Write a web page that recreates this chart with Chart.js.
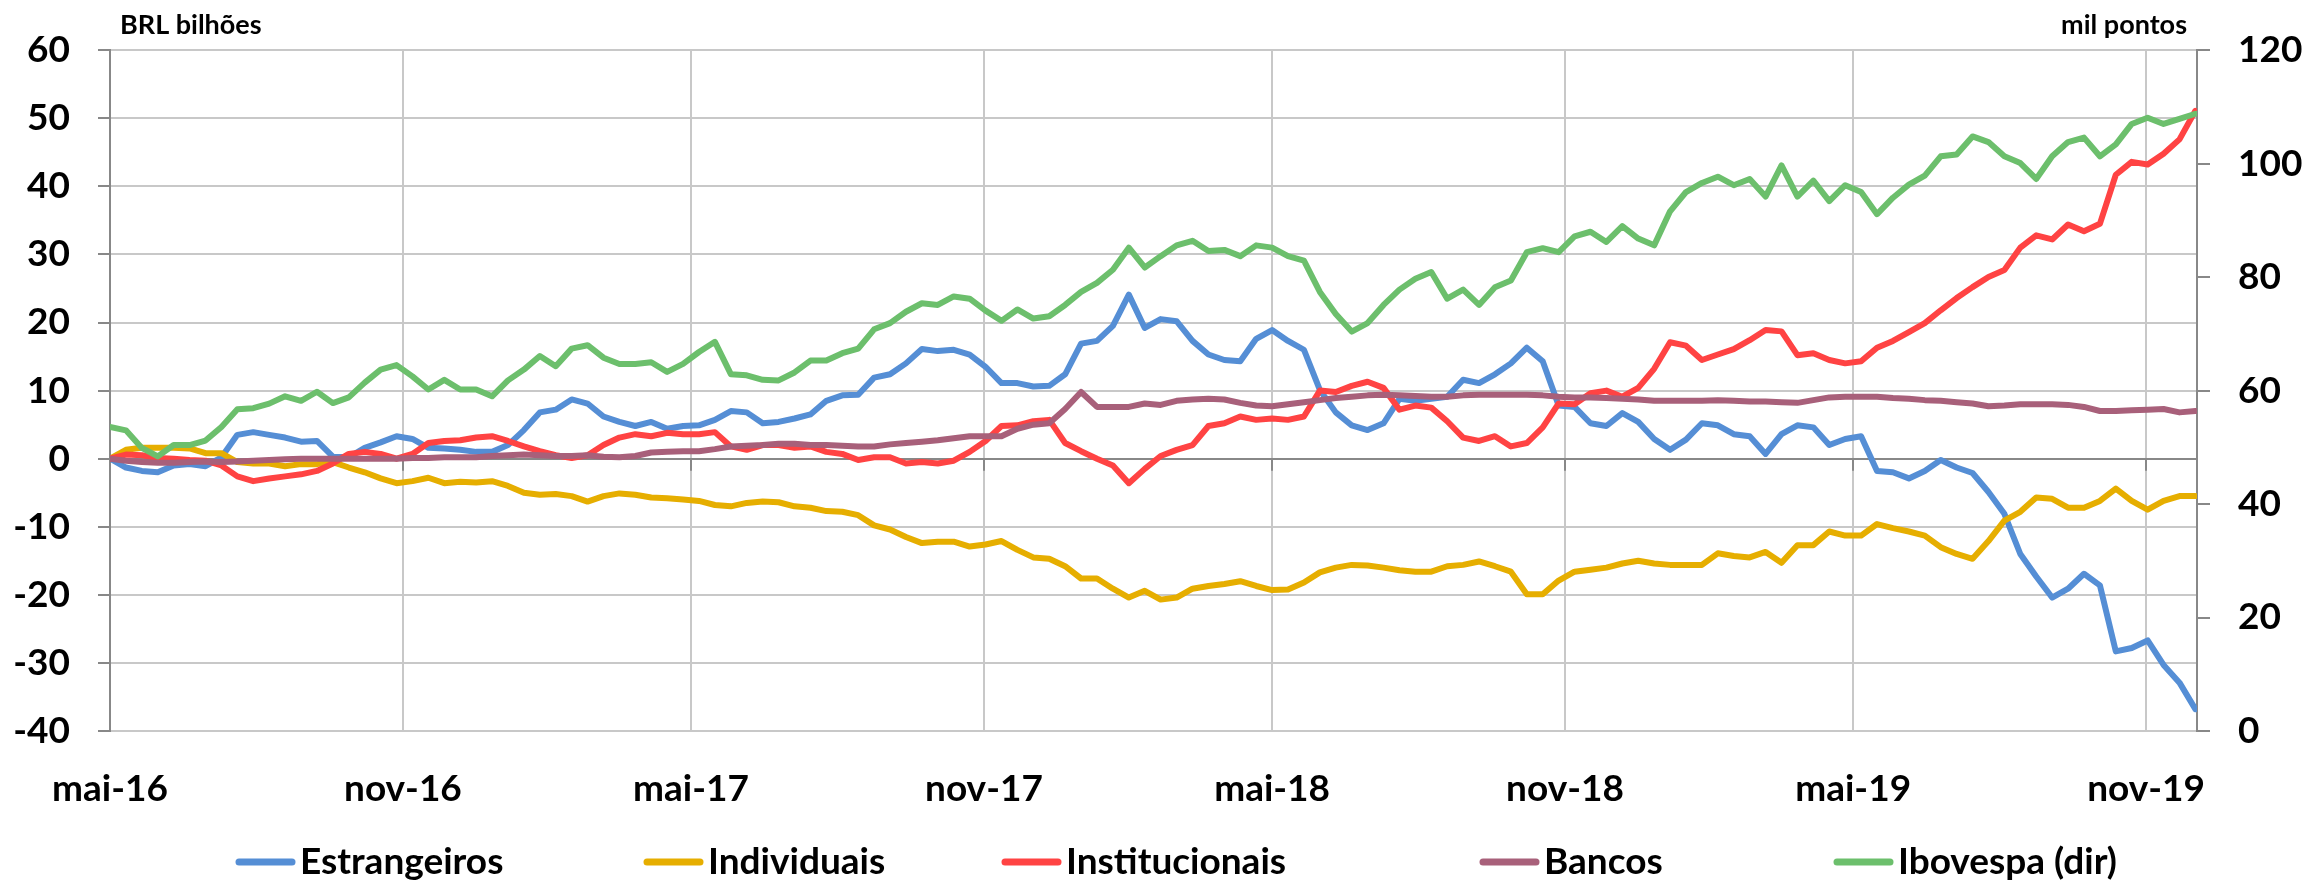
<!DOCTYPE html>
<html lang="pt-BR">
<head>
<meta charset="utf-8">
<title>Fluxo de investidores na B3</title>
<script src="https://cdn.jsdelivr.net/npm/chart.js@4.4.1/dist/chart.umd.min.js"></script>
<style>
  html, body { margin: 0; padding: 0; background: #ffffff; }
  #wrap { width: 2310px; height: 886px; }
</style>
</head>
<body>
<div id="wrap"><canvas id="fluxo" width="2310" height="886"></canvas></div>
<script>
// dias desde 01/05/2016 (um ponto a cada 10 dias)
const dias = [
  0, 10, 20, 30, 40, 50, 60, 70, 80, 90, 100, 110, 120, 130, 140, 150, 160, 170, 180, 190, 200, 210,
  220, 230, 240, 250, 260, 270, 280, 290, 300, 310, 320, 330, 340, 350, 360, 370, 380, 390, 400, 410, 420, 430,
  440, 450, 460, 470, 480, 490, 500, 510, 520, 530, 540, 550, 560, 570, 580, 590, 600, 610, 620, 630, 640, 650,
  660, 670, 680, 690, 700, 710, 720, 730, 740, 750, 760, 770, 780, 790, 800, 810, 820, 830, 840, 850, 860, 870,
  880, 890, 900, 910, 920, 930, 940, 950, 960, 970, 980, 990, 1000, 1010, 1020, 1030, 1040, 1050, 1060, 1070, 1080,
  1090, 1100, 1110, 1120, 1130, 1140, 1150, 1160, 1170, 1180, 1190, 1200, 1210, 1220, 1230, 1240, 1250, 1260, 1270, 1280, 1290, 1300, 1310
];

// BRL bilhões (eixo esquerdo)
const estrangeiros = [
  0, -1.3, -1.8, -2.0, -1.0, -0.8, -1.1, 0.2, 3.5, 3.9, 3.5, 3.1, 2.5, 2.6, 0.3, 0.2, 1.6, 2.4, 3.3, 2.9, 1.6, 1.5,
  1.3, 1.0, 1.0, 2.0, 4.2, 6.8, 7.2, 8.7, 8.1, 6.2, 5.4, 4.8, 5.4, 4.4, 4.8, 4.9, 5.7, 7.0, 6.8, 5.2, 5.4, 5.9,
  6.5, 8.5, 9.3, 9.4, 11.9, 12.4, 14.0, 16.1, 15.8, 16.0, 15.3, 13.5, 11.1, 11.1, 10.6, 10.7, 12.4, 16.9, 17.3, 19.5, 24.1, 19.2,
  20.5, 20.2, 17.3, 15.3, 14.5, 14.3, 17.6, 18.9, 17.3, 16.0, 10.1, 6.8, 4.9, 4.2, 5.2, 8.8, 8.5, 8.8, 9.1, 11.6, 11.1, 12.4,
  14.0, 16.3, 14.3, 7.8, 7.6, 5.2, 4.8, 6.7, 5.4, 2.9, 1.3, 2.8, 5.2, 4.9, 3.6, 3.3, 0.7, 3.6, 4.9, 4.6, 2.0,
  2.9, 3.3, -1.8, -2.0, -2.9, -1.8, -0.2, -1.3, -2.1, -4.9, -8.1, -14.0, -17.3, -20.4, -19.1, -16.9, -18.6, -28.3, -27.8, -26.7, -30.3, -32.9, -36.8
];
const individuais = [
  0, 1.3, 1.6, 1.6, 1.6, 1.5, 0.8, 0.8, -0.5, -0.7, -0.7, -1.1, -0.8, -0.8, -0.5, -1.3, -2.0, -2.9, -3.6, -3.3, -2.8, -3.6,
  -3.4, -3.5, -3.3, -4.0, -5.0, -5.3, -5.2, -5.5, -6.3, -5.5, -5.1, -5.3, -5.7, -5.8, -6.0, -6.2, -6.8, -7.0, -6.5, -6.3, -6.4, -7.0,
  -7.2, -7.7, -7.8, -8.3, -9.8, -10.4, -11.5, -12.4, -12.2, -12.2, -12.9, -12.6, -12.1, -13.4, -14.5, -14.7, -15.8, -17.6, -17.6, -19.1, -20.4, -19.4,
  -20.7, -20.4, -19.1, -18.7, -18.4, -18.0, -18.7, -19.3, -19.2, -18.2, -16.7, -16.0, -15.6, -15.7, -16.0, -16.4, -16.6, -16.6, -15.8, -15.6, -15.1, -15.8,
  -16.6, -19.9, -19.9, -17.9, -16.6, -16.3, -16.0, -15.4, -15.0, -15.4, -15.6, -15.6, -15.6, -13.9, -14.3, -14.5, -13.7, -15.3, -12.7, -12.7, -10.7,
  -11.3, -11.3, -9.6, -10.2, -10.7, -11.3, -13.0, -14.0, -14.7, -12.1, -9.1, -7.8, -5.7, -5.9, -7.2, -7.2, -6.2, -4.4, -6.2, -7.5, -6.2, -5.5, -5.5
];
const institucionais = [
  0, 0.6, 0.5, 0.1, 0, -0.2, -0.3, -1.0, -2.6, -3.3, -2.9, -2.6, -2.3, -1.8, -0.7, 0.7, 1.0, 0.7, 0, 0.7, 2.3, 2.6,
  2.7, 3.1, 3.3, 2.6, 1.8, 1.1, 0.5, 0.1, 0.5, 2.0, 3.1, 3.6, 3.3, 3.8, 3.6, 3.6, 3.9, 1.8, 1.3, 2.0, 2.0, 1.6,
  1.8, 1.0, 0.7, -0.2, 0.2, 0.2, -0.7, -0.5, -0.7, -0.3, 1.0, 2.6, 4.8, 4.9, 5.5, 5.7, 2.3, 1.1, 0, -1.0, -3.6, -1.5,
  0.4, 1.3, 2.0, 4.8, 5.2, 6.2, 5.7, 5.9, 5.7, 6.2, 10.0, 9.8, 10.7, 11.3, 10.4, 7.2, 7.8, 7.5, 5.5, 3.1, 2.6, 3.3,
  1.8, 2.3, 4.6, 8.1, 8.0, 9.6, 10.0, 9.1, 10.4, 13.2, 17.1, 16.6, 14.5, 15.3, 16.1, 17.4, 18.9, 18.7, 15.2, 15.5, 14.5,
  14.0, 14.3, 16.3, 17.3, 18.6, 19.9, 21.8, 23.6, 25.2, 26.7, 27.7, 31.0, 32.8, 32.2, 34.4, 33.4, 34.5, 41.7, 43.6, 43.2, 44.8, 46.9, 51.1
];
const bancos = [
  0, -0.3, -0.5, -0.6, -0.6, -0.5, -0.4, -0.5, -0.4, -0.3, -0.2, -0.1, 0, 0, 0, 0, 0, 0, 0, 0.1, 0.1, 0.2,
  0.2, 0.2, 0.4, 0.5, 0.6, 0.5, 0.4, 0.4, 0.5, 0.3, 0.2, 0.4, 0.9, 1.0, 1.1, 1.1, 1.4, 1.8, 1.9, 2.0, 2.2, 2.2,
  2.0, 2.0, 1.9, 1.8, 1.8, 2.1, 2.3, 2.5, 2.7, 3.0, 3.3, 3.3, 3.3, 4.4, 5.0, 5.2, 7.3, 9.8, 7.6, 7.6, 7.6, 8.1,
  7.9, 8.5, 8.7, 8.8, 8.7, 8.2, 7.8, 7.7, 8.0, 8.3, 8.6, 8.9, 9.1, 9.3, 9.4, 9.3, 9.2, 9.1, 9.1, 9.3, 9.4, 9.4,
  9.4, 9.4, 9.3, 9.1, 9.0, 9.0, 8.9, 8.8, 8.7, 8.5, 8.5, 8.5, 8.5, 8.6, 8.5, 8.4, 8.4, 8.3, 8.2, 8.6, 9.0,
  9.1, 9.1, 9.1, 8.9, 8.8, 8.6, 8.5, 8.3, 8.1, 7.7, 7.8, 8.0, 8.0, 8.0, 7.9, 7.6, 7.0, 7.0, 7.1, 7.2, 7.3, 6.8, 7.0
];
// mil pontos (eixo direito)
const ibovespa = [
  53.6, 53.0, 49.9, 48.4, 50.4, 50.4, 51.2, 53.6, 56.7, 56.9, 57.7, 59.0, 58.2, 59.8, 57.8, 58.8, 61.4, 63.7, 64.5, 62.5, 60.2, 61.9,
  60.2, 60.2, 59.0, 61.8, 63.7, 66.1, 64.3, 67.4, 68.0, 65.8, 64.7, 64.7, 65.0, 63.3, 64.7, 66.8, 68.6, 62.9, 62.7, 61.9, 61.8, 63.2,
  65.3, 65.3, 66.6, 67.4, 70.8, 71.9, 73.9, 75.4, 75.1, 76.6, 76.2, 74.1, 72.3, 74.3, 72.7, 73.1, 75.1, 77.4, 79.0, 81.3, 85.2, 81.7,
  83.7, 85.6, 86.4, 84.6, 84.8, 83.7, 85.6, 85.2, 83.7, 82.9, 77.4, 73.5, 70.4, 71.9, 75.1, 77.8, 79.7, 80.9, 76.2, 77.8, 75.1, 78.2,
  79.4, 84.4, 85.1, 84.4, 87.2, 88.0, 86.2, 89.0, 86.8, 85.6, 91.6, 95.0, 96.6, 97.7, 96.2, 97.3, 94.2, 99.7, 94.2, 97.0, 93.4,
  96.2, 95.0, 91.1, 94.0, 96.3, 97.9, 101.3, 101.6, 104.8, 103.8, 101.3, 100.1, 97.3, 101.3, 103.8, 104.6, 101.3, 103.4, 107.0, 108.1, 107.0, 107.9, 108.8
];

// marcas do eixo horizontal (dias desde 01/05/2016)
const marcasMeses = [0, 184, 365, 549, 730, 914, 1095, 1279];
const rotulosMeses = ['mai-16', 'nov-16', 'mai-17', 'nov-17', 'mai-18', 'nov-18', 'mai-19', 'nov-19'];

const nomes = ['Estrangeiros', 'Individuais', 'Institucionais', 'Bancos', 'Ibovespa (dir)'];
const cores = ['#558ED5', '#E6AE00', '#FF4343', '#A8607A', '#6CBF6C'];

const FONTE = 'Lato, "Open Sans", sans-serif';
const CINZA_GRADE = '#C8C8C8';
const CINZA_EIXO = '#888888';

function pontos(valores) {
	return dias.map((d, i) => ({ x: d, y: valores[i] }));
}

// textos dos eixos e legenda desenhados à mão
const textosPlugin = {
	id: 'textos',
	afterDraw(chart) {
		const ctx = chart.ctx;
		ctx.save();
		ctx.fillStyle = '#000000';
		ctx.font = 'bold 27px ' + FONTE;
		ctx.textBaseline = 'middle';
		ctx.textAlign = 'left';
		ctx.fillText('BRL bilhões', 120, 25);
		ctx.textAlign = 'right';
		ctx.fillText('mil pontos', 2187, 25);

		// legenda
		const inicio = [236, 644, 1002, 1480, 1834];
		const yLeg = 862;
		ctx.font = 'bold 37px ' + FONTE;
		ctx.textAlign = 'left';
		chart.data.datasets.forEach((ds, i) => {
			ctx.strokeStyle = ds.borderColor;
			ctx.lineWidth = 7;
			ctx.lineCap = 'round';
			ctx.beginPath();
			ctx.moveTo(inicio[i] + 3, yLeg);
			ctx.lineTo(inicio[i] + 56, yLeg);
			ctx.stroke();
			ctx.fillStyle = '#000000';
			ctx.fillText(ds.label, inicio[i] + 64, yLeg);
		});
		ctx.restore();
	},
	beforeDatasetsDraw(chart) {
		// marquinhas do eixo x sobre a linha do zero
		const ctx = chart.ctx;
		const xs = chart.scales.x;
		const y0 = chart.scales.y.getPixelForValue(0);
		ctx.save();
		ctx.strokeStyle = CINZA_EIXO;
		ctx.lineWidth = 2;
		marcasMeses.forEach((m) => {
			const px = Math.round(xs.getPixelForValue(m));
			ctx.beginPath();
			ctx.moveTo(px, y0);
			ctx.lineTo(px, y0 + 12);
			ctx.stroke();
		});
		ctx.restore();
	}
};

const series = [estrangeiros, individuais, institucionais, bancos, ibovespa];

new Chart(document.getElementById('fluxo'), {
	type: 'line',
	data: {
		datasets: series.map((s, i) => ({
			label: nomes[i],
			data: pontos(s),
			borderColor: cores[i],
			backgroundColor: cores[i],
			borderWidth: 6,
			pointRadius: 0,
			tension: 0,
			borderJoinStyle: 'round',
			borderCapStyle: 'round',
			yAxisID: i === 4 ? 'y1' : 'y',
			order: 5 - i
		}))
	},
	options: {
		responsive: false,
		animation: false,
		devicePixelRatio: 1,
		layout: { padding: { top: 48, left: 0, right: 0, bottom: 0 } },
		plugins: {
			legend: { display: false },
			tooltip: { enabled: false }
		},
		scales: {
			x: {
				type: 'linear',
				min: 0,
				max: 1311,
				afterBuildTicks: (scale) => {
					scale.ticks = marcasMeses.map((v) => ({ value: v }));
				},
				afterFit: (scale) => {
					scale.height = 155;
				},
				ticks: {
					autoSkip: false,
					maxRotation: 0,
					padding: 36,
					color: '#000000',
					font: { family: FONTE, size: 37, weight: 'bold' },
					callback: (v) => rotulosMeses[marcasMeses.indexOf(v)]
				},
				grid: { color: CINZA_GRADE, lineWidth: 2, drawTicks: false },
				border: { display: false }
			},
			y: {
				position: 'left',
				min: -40,
				max: 60,
				afterFit: (scale) => {
					scale.width = 110;
				},
				ticks: {
					stepSize: 10,
					padding: 28,
					color: '#000000',
					font: { family: FONTE, size: 37, weight: 'bold' }
				},
				grid: {
					color: (c) => (c.tick && c.tick.value === 0 ? CINZA_EIXO : CINZA_GRADE),
					lineWidth: 2,
					tickLength: 12,
					tickColor: CINZA_EIXO
				},
				border: { color: CINZA_EIXO, width: 2 }
			},
			y1: {
				position: 'right',
				min: 0,
				max: 120,
				afterFit: (scale) => {
					scale.width = 113;
				},
				ticks: {
					stepSize: 20,
					padding: 28,
					color: '#000000',
					font: { family: FONTE, size: 37, weight: 'bold' }
				},
				grid: { drawOnChartArea: false, tickLength: 13, tickColor: CINZA_EIXO, lineWidth: 2 },
				border: { color: CINZA_EIXO, width: 2 }
			}
		}
	},
	plugins: [textosPlugin]
});
</script>
</body>
</html>
